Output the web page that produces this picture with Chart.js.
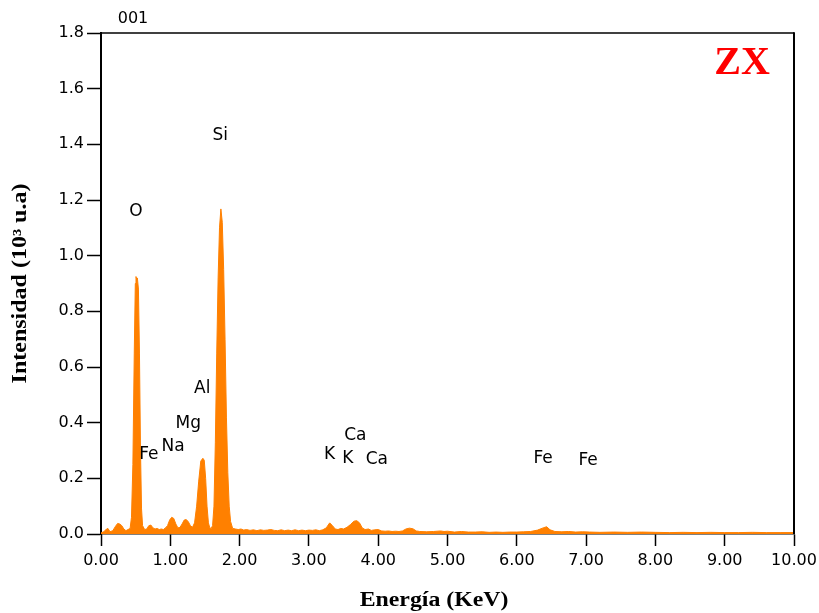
<!DOCTYPE html>
<html>
<head>
<meta charset="utf-8">
<script src="https://cdn.jsdelivr.net/npm/chart.js@4/dist/chart.umd.min.js"></script>
<style>
  html, body { margin: 0; padding: 0; background: #fff; }
  #wrap { width: 819px; height: 613px; }
</style>
</head>
<body>
<div id="wrap"><canvas id="eds" width="819" height="613"></canvas></div>
<script>
// EDS spectrum, energy in keV and intensity in 10^3 counts
const energy = [
  0.00, 0.04, 0.08, 0.10, 0.13, 0.17, 0.21, 0.24, 0.27, 0.30, 0.33, 0.36, 0.39, 0.42,
  0.44, 0.46, 0.48, 0.495, 0.505, 0.515, 0.525, 0.54, 0.555, 0.57, 0.585, 0.60, 0.63,
  0.66, 0.69, 0.72, 0.75, 0.78, 0.81, 0.84, 0.87, 0.90, 0.93, 0.96, 0.99, 1.02, 1.05,
  1.08, 1.11, 1.14, 1.17, 1.20, 1.23, 1.26, 1.29, 1.32, 1.35, 1.38, 1.41, 1.44, 1.47,
  1.49, 1.51, 1.53, 1.55, 1.57, 1.59, 1.61, 1.63, 1.65, 1.67, 1.69, 1.71, 1.73, 1.75,
  1.77, 1.79, 1.81, 1.83, 1.85, 1.87, 1.90, 1.94, 1.98, 2.02, 2.06, 2.10, 2.15, 2.20,
  2.25, 2.30, 2.35, 2.40, 2.45, 2.50, 2.55, 2.60, 2.65, 2.70, 2.75, 2.80, 2.85, 2.90,
  2.95, 3.00, 3.05, 3.10, 3.15, 3.20, 3.25, 3.30, 3.34, 3.38, 3.42, 3.46, 3.50, 3.55,
  3.60, 3.65, 3.69, 3.73, 3.77, 3.81, 3.86, 3.90, 3.95, 4.00, 4.05, 4.10, 4.15, 4.20,
  4.25, 4.30, 4.35, 4.40, 4.45, 4.50, 4.55, 4.60, 4.70, 4.80, 4.90, 4.95, 5.00, 5.10,
  5.20, 5.30, 5.40, 5.50, 5.60, 5.70, 5.80, 5.90, 6.00, 6.10, 6.20, 6.30, 6.38, 6.43,
  6.48, 6.55, 6.65, 6.75, 6.85, 6.95, 7.05, 7.20, 7.40, 7.60, 7.80, 8.00, 8.20, 8.40,
  8.60, 8.80, 9.00, 9.20, 9.40, 9.60, 9.80, 10.00
];
const counts = [
  0.004, 0.008, 0.018, 0.020, 0.008, 0.012, 0.028, 0.038, 0.036, 0.030, 0.018, 0.012, 0.016, 0.020,
  0.060, 0.250, 0.650, 0.900, 0.925, 0.915, 0.920, 0.880, 0.650, 0.300, 0.090, 0.030, 0.016,
  0.018, 0.030, 0.032, 0.022, 0.018, 0.020, 0.016, 0.018, 0.016, 0.022, 0.030, 0.050, 0.060, 0.056,
  0.036, 0.022, 0.024, 0.036, 0.050, 0.052, 0.044, 0.030, 0.024, 0.040, 0.100, 0.190, 0.262, 0.272,
  0.265, 0.200, 0.100, 0.040, 0.022, 0.020, 0.030, 0.100, 0.330, 0.650, 0.920, 1.100, 1.168, 1.120,
  0.950, 0.700, 0.420, 0.220, 0.100, 0.045, 0.020, 0.018, 0.016, 0.018, 0.014, 0.016, 0.013, 0.015,
  0.012, 0.015, 0.013, 0.014, 0.016, 0.013, 0.012, 0.015, 0.012, 0.014, 0.012, 0.015, 0.012, 0.014,
  0.012, 0.014, 0.013, 0.015, 0.012, 0.015, 0.022, 0.040, 0.030, 0.018, 0.016, 0.020, 0.018, 0.024,
  0.034, 0.046, 0.048, 0.040, 0.022, 0.016, 0.018, 0.013, 0.015, 0.016, 0.011, 0.010, 0.011, 0.009,
  0.010, 0.009, 0.011, 0.018, 0.021, 0.019, 0.011, 0.009, 0.008, 0.009, 0.011, 0.009, 0.010, 0.007,
  0.009, 0.007, 0.007, 0.008, 0.006, 0.007, 0.006, 0.007, 0.007, 0.008, 0.009, 0.014, 0.022, 0.026,
  0.015, 0.009, 0.008, 0.009, 0.007, 0.008, 0.007, 0.006, 0.007, 0.006, 0.007, 0.006, 0.005, 0.006,
  0.005, 0.006, 0.005, 0.005, 0.006, 0.005, 0.005, 0.005
];

// element line labels: name, energy (keV), height (10^3)
const peakNames  = ['Si', 'O', 'Al', 'Mg', 'Na', 'Fe', 'K', 'Ca', 'K', 'Ca', 'Fe', 'Fe'];
const peakEnergy = [1.72, 0.505, 1.46, 1.26, 1.04, 0.69, 3.30, 3.67, 3.56, 3.98, 6.38, 7.03];
const peakHeight = [1.43, 1.157, 0.521, 0.395, 0.313, 0.287, 0.287, 0.352, 0.27, 0.266, 0.27, 0.262];

const xTitle = 'Energía (KeV)';
const yTitle = 'Intensidad (10³ u.a)';
const sampleName = 'ZX';
const spectrumId = '001';

const points = energy.map((e, i) => ({ x: e, y: counts[i] }));

const annotate = {
  id: 'annotate',
  afterDatasetsDraw(chart) {
    const { ctx, chartArea, scales } = chart;
    const { left, right, top, bottom } = chartArea;
    ctx.save();

    // frame on top and right
    ctx.strokeStyle = '#000';
    ctx.lineWidth = 1.5;
    ctx.beginPath();
    ctx.moveTo(left, top);
    ctx.lineTo(right, top);
    ctx.stroke();
    ctx.lineWidth = 2;
    ctx.beginPath();
    ctx.moveTo(right, top - 0.75);
    ctx.lineTo(right, bottom);
    ctx.stroke();

    ctx.fillStyle = '#000';
    ctx.textAlign = 'center';
    ctx.textBaseline = 'middle';
    ctx.font = '17px "DejaVu Sans"';
    peakNames.forEach((name, i) => {
      ctx.fillText(name, scales.x.getPixelForValue(peakEnergy[i]), scales.y.getPixelForValue(peakHeight[i]));
    });

    ctx.font = '16px "DejaVu Sans"';
    ctx.fillText(spectrumId, left + 32, top - 14);

    ctx.fillStyle = '#ff0000';
    ctx.font = 'bold 40px "Liberation Serif"';
    ctx.fillText(sampleName, right - 52, top + 31);

    // axis titles, wide bold serif
    ctx.fillStyle = '#000';
    ctx.font = 'bold 20px "Liberation Serif"';
    ctx.save();
    ctx.translate(434, 601);
    ctx.scale(1.19, 1);
    ctx.fillText(xTitle, 0, 0);
    ctx.restore();

    ctx.save();
    ctx.translate(21, (top + bottom) / 2);
    ctx.rotate(-Math.PI / 2);
    ctx.scale(1.2, 1);
    ctx.fillText(yTitle, 0, 0);
    ctx.restore();

    ctx.restore();
  }
};

new Chart(document.getElementById('eds'), {
  type: 'line',
  data: {
    datasets: [{
      data: points,
      borderColor: '#ff8000',
      backgroundColor: '#ff8000',
      borderWidth: 1,
      pointRadius: 0,
      tension: 0,
      fill: 'origin'
    }]
  },
  options: {
    responsive: false,
    animation: false,
    layout: { padding: { top: 33, right: 25, left: 0, bottom: 0 } },
    plugins: { legend: { display: false }, tooltip: { enabled: false } },
    scales: {
      x: {
        type: 'linear',
        min: 0,
        max: 10,
        afterFit: (scale) => {
          scale.height = 79;
          scale.paddingLeft = 0;
          scale.paddingRight = 0;
        },
        ticks: {
          stepSize: 1,
          padding: 5,
          color: '#000',
          font: { family: 'DejaVu Sans', size: 16 },
          maxRotation: 0,
          callback: (v) => v.toFixed(2)
        },
        grid: { drawOnChartArea: false, drawTicks: true, tickLength: 12, tickColor: '#000', tickWidth: 1.5 },
        border: { color: '#000', width: 1.5 }
      },
      y: {
        min: 0,
        max: 1.8,
        afterFit: (scale) => { scale.width = 101; },
        ticks: {
          stepSize: 0.2,
          padding: 3,
          color: '#000',
          font: { family: 'DejaVu Sans', size: 16 },
          callback: (v) => v.toFixed(1)
        },
        grid: { drawOnChartArea: false, drawTicks: true, tickLength: 14, tickColor: '#000', tickWidth: 1.5 },
        border: { color: '#000', width: 2 }
      }
    }
  },
  plugins: [annotate]
});
</script>
</body>
</html>
